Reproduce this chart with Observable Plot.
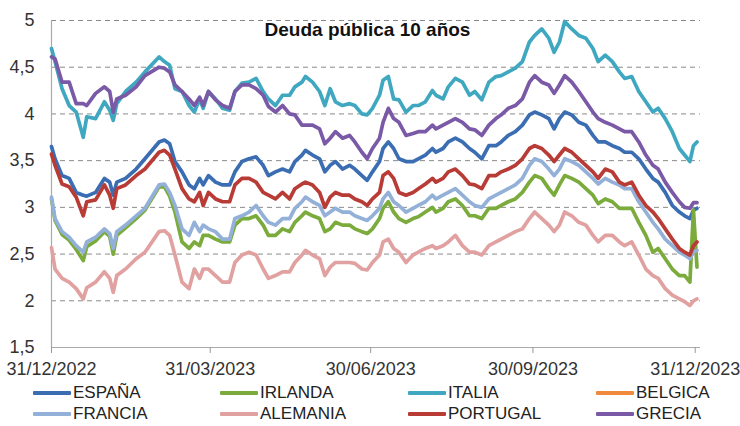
<!DOCTYPE html>
<html><head><meta charset="utf-8">
<script src="https://cdn.jsdelivr.net/npm/d3@7"></script>
<script src="https://cdn.jsdelivr.net/npm/@observablehq/plot@0.6"></script>
<style>
body{margin:0;background:#fff;}
#wrap{position:relative;width:740px;height:426px;font-family:"Liberation Sans",Arial,sans-serif;overflow:hidden;}
#title{position:absolute;top:19px;left:0;width:735px;text-align:center;font-weight:bold;font-size:19px;color:#111;}
.item{position:absolute;height:20px;line-height:20px;display:flex;align-items:center;font-size:17px;color:#222;white-space:nowrap;}
.sw{width:38px;height:4px;margin-right:2px;border-radius:1px;}
</style></head><body>
<div id="wrap"><div id="chart"></div><div id="title">Deuda pública 10 años</div><div id="legend"></div></div>
<script>
// days after 31/12/2022
const dayOffsets = [0,2,6,10,14,18,20,25,30,33,35,37,42,48,53,61,64,67,
70,74,78,81,84,86,89,93,97,101,104,108,112,116,120,123,127,131,135,138,142,
144,148,152,155,158,161,165,169,172,176,179,182,186,188,191,194,197,201,205,208,212,216,
218,222,225,229,233,237,240,244,248,252,255,259,263,267,271,274,278,282,285,288,
291,295,299,303,307,310,314,318,322,325,329,333,337,341,344,348,352,356,359,362,364,366];

const espana = [3.65,3.52,3.34,3.31,3.16,3.13,3.12,3.16,3.31,3.27,3.13,3.27,3.31,3.41,3.52,3.70,3.72,3.68,
3.49,3.38,3.24,3.20,3.31,3.24,3.34,3.27,3.24,3.24,3.38,3.49,3.52,3.54,3.45,3.34,3.38,3.41,3.38,3.49,3.56,
3.61,3.56,3.52,3.38,3.45,3.49,3.41,3.45,3.41,3.34,3.29,3.38,3.49,3.63,3.70,3.63,3.52,3.49,3.49,3.52,3.56,3.63,
3.59,3.63,3.70,3.74,3.70,3.63,3.59,3.52,3.66,3.66,3.70,3.77,3.81,3.88,3.99,4.02,3.99,3.95,3.84,3.95,
4.02,3.99,3.91,3.88,3.77,3.70,3.70,3.66,3.63,3.59,3.59,3.52,3.41,3.31,3.27,3.16,3.02,2.95,2.91,2.88,2.97,2.99];

const irlanda = [3.09,2.86,2.71,2.65,2.55,2.43,2.58,2.64,2.74,2.69,2.50,2.70,2.78,2.88,2.97,3.22,3.22,3.12,
2.95,2.63,2.56,2.63,2.59,2.70,2.70,2.66,2.63,2.63,2.81,2.88,2.88,2.91,2.81,2.70,2.70,2.77,2.74,2.84,2.91,
2.95,2.91,2.88,2.74,2.77,2.84,2.81,2.81,2.77,2.74,2.72,2.77,2.88,2.99,3.06,2.95,2.88,2.84,2.88,2.90,2.95,3.00,
2.95,2.99,3.06,3.09,3.02,2.91,2.91,2.88,2.99,2.99,3.02,3.06,3.09,3.16,3.27,3.34,3.31,3.20,3.13,3.24,
3.34,3.31,3.27,3.20,3.13,3.04,3.09,3.06,2.99,2.99,2.99,2.84,2.70,2.52,2.56,2.45,2.34,2.27,2.27,2.20,2.97,2.36];

const italia = [4.70,4.56,4.27,4.09,4.02,3.75,3.97,3.95,4.13,4.04,3.93,4.11,4.24,4.34,4.45,4.61,4.56,4.52,
4.27,4.24,4.09,4.02,4.16,4.06,4.24,4.16,4.06,4.04,4.24,4.33,4.34,4.38,4.24,4.16,4.09,4.20,4.20,4.29,4.34,
4.40,4.34,4.24,4.09,4.27,4.13,4.09,4.11,4.09,4.00,3.99,4.06,4.20,4.36,4.40,4.16,4.15,4.02,4.09,4.09,4.13,4.25,
4.20,4.16,4.29,4.38,4.34,4.20,4.24,4.15,4.34,4.40,4.41,4.45,4.49,4.56,4.77,4.84,4.91,4.81,4.66,4.77,
4.99,4.91,4.84,4.81,4.70,4.56,4.63,4.56,4.45,4.38,4.40,4.24,4.13,4.02,4.06,3.95,3.81,3.63,3.56,3.49,3.66,3.70];

const belgica = [];

const francia = [3.11,2.88,2.74,2.68,2.59,2.52,2.63,2.68,2.77,2.72,2.56,2.74,2.81,2.91,2.99,3.24,3.25,3.16,
3.02,2.77,2.70,2.84,2.74,2.81,2.77,2.74,2.66,2.66,2.88,2.91,2.95,3.02,2.91,2.84,2.81,2.88,2.88,2.99,3.06,
3.11,3.06,3.02,2.91,2.95,2.99,2.95,2.95,2.91,2.88,2.86,2.91,2.99,3.09,3.16,3.06,3.02,2.95,2.99,3.02,3.06,3.13,
3.09,3.13,3.16,3.20,3.13,3.06,3.02,3.00,3.09,3.13,3.16,3.20,3.24,3.31,3.45,3.52,3.49,3.41,3.34,3.41,
3.52,3.49,3.45,3.38,3.31,3.25,3.31,3.27,3.24,3.20,3.20,3.06,2.95,2.84,2.77,2.66,2.59,2.52,2.49,2.45,2.52,2.54];

const alemania = [2.57,2.34,2.24,2.20,2.13,2.02,2.14,2.20,2.31,2.24,2.09,2.27,2.34,2.45,2.52,2.74,2.75,2.70,
2.49,2.20,2.13,2.34,2.24,2.34,2.34,2.27,2.20,2.20,2.41,2.49,2.52,2.49,2.34,2.24,2.27,2.31,2.31,2.41,2.49,
2.54,2.49,2.45,2.27,2.36,2.41,2.41,2.41,2.40,2.34,2.33,2.41,2.49,2.63,2.66,2.56,2.52,2.41,2.49,2.52,2.56,2.59,
2.56,2.59,2.63,2.70,2.59,2.52,2.52,2.49,2.59,2.63,2.66,2.70,2.74,2.77,2.88,2.95,2.88,2.81,2.74,2.81,
2.95,2.91,2.84,2.81,2.70,2.63,2.70,2.70,2.63,2.59,2.63,2.49,2.34,2.27,2.24,2.13,2.06,2.02,1.99,1.95,2.00,2.02];

const portugal = [3.57,3.45,3.25,3.22,3.11,2.91,3.06,3.08,3.24,3.13,2.99,3.20,3.24,3.34,3.41,3.59,3.61,3.56,
3.41,3.20,3.09,3.06,3.16,3.02,3.16,3.09,3.06,3.06,3.24,3.31,3.31,3.27,3.16,3.13,3.09,3.16,3.09,3.20,3.25,
3.27,3.24,3.16,3.00,3.11,3.16,3.13,3.13,3.09,3.06,3.02,3.09,3.16,3.34,3.38,3.31,3.16,3.13,3.16,3.20,3.25,3.31,
3.27,3.31,3.38,3.41,3.34,3.25,3.24,3.20,3.34,3.34,3.38,3.41,3.45,3.52,3.63,3.66,3.63,3.56,3.49,3.56,
3.63,3.59,3.52,3.45,3.38,3.31,3.41,3.38,3.27,3.24,3.27,3.13,3.02,2.95,2.88,2.77,2.66,2.56,2.52,2.49,2.59,2.63];

const grecia = [4.61,4.59,4.34,4.34,4.11,4.11,4.09,4.22,4.29,4.24,4.02,4.16,4.20,4.29,4.41,4.50,4.49,4.45,
4.31,4.24,4.16,4.09,4.18,4.09,4.24,4.15,4.09,4.06,4.24,4.31,4.31,4.27,4.20,4.08,4.02,4.09,4.00,3.99,3.88,
3.88,3.88,3.84,3.68,3.74,3.81,3.74,3.77,3.70,3.59,3.52,3.63,3.74,3.91,4.06,3.95,3.91,3.77,3.79,3.81,3.81,3.88,
3.84,3.88,3.91,3.95,3.91,3.84,3.83,3.77,3.88,3.95,3.99,4.06,4.09,4.16,4.34,4.41,4.34,4.31,4.22,4.31,
4.41,4.34,4.24,4.13,4.02,3.95,3.91,3.88,3.84,3.81,3.81,3.70,3.56,3.45,3.41,3.27,3.16,3.06,3.00,2.99,3.05,3.05];

const seriesNames = ["ESPAÑA","IRLANDA","ITALIA","BELGICA","FRANCIA","ALEMANIA","PORTUGAL","GRECIA"];
const seriesValues = [espana, irlanda, italia, belgica, francia, alemania, portugal, grecia];
const seriesColors = ["#3a6db2","#7bab3c","#3fa8c0","#f0883e","#93b1d8","#e0a1a0","#b83b36","#7a59a6"];

const yTicks = [1.5,2,2.5,3,3.5,4,4.5,5];
const xTickLabels = ["2022-12-31","2023-03-31","2023-06-30","2023-09-30","2023-12-31"];

const start = new Date(Date.UTC(2022,11,31));
const rows = [];
seriesNames.forEach((name, s) => {
  seriesValues[s].forEach((v, i) => rows.push({name, date: d3.utcDay.offset(start, dayOffsets[i]), value: v}));
});
const xTicks = xTickLabels.map(s => new Date(s + "T00:00:00Z"));
const fmtDate = d3.utcFormat("%d/%m/%Y");
const fmtNum = d => String(d).replace(".", ",");

const chart = Plot.plot({
  width: 740, height: 383,
  marginLeft: 51, marginRight: 40, marginTop: 20, marginBottom: 36,
  style: {fontFamily: "'Liberation Sans', Arial, sans-serif", fontSize: "18px", color: "#333", background: "white"},
  x: {type: "utc", domain: [start, d3.utcDay.offset(start, 368)]},
  y: {domain: [1.5, 5]},
  color: {domain: seriesNames, range: seriesColors},
  marks: [
    Plot.ruleY(yTicks.filter(d => d > 1.5), {stroke: "#8a8a8a", strokeDasharray: "5,4", strokeWidth: 1}),
    Plot.ruleY([1.5], {stroke: "#aaa", strokeWidth: 1.2}),
    Plot.ruleX([start], {stroke: "#aaa", strokeWidth: 1.2}),
    Plot.axisY({ticks: yTicks, tickFormat: fmtNum, tickSize: 0, tickPadding: 17, label: null}),
    Plot.axisX({ticks: xTicks, tickFormat: fmtDate, tickSize: 6, tickPadding: 9, label: null, stroke: "#999", fill: "#333"}),
    Plot.line(rows, {x: "date", y: "value", z: "name", stroke: "name", strokeWidth: 3.7, strokeLinejoin: "round", strokeLinecap: "round"})
  ]
});
document.getElementById("chart").appendChild(chart);

const legend = document.getElementById("legend");
const colLeft = [33, 220, 408, 596];
const rowTop = [383, 404];
seriesNames.forEach((name, i) => {
  const it = document.createElement("div");
  it.className = "item";
  it.style.left = colLeft[i % 4] + "px";
  it.style.top = rowTop[Math.floor(i / 4)] + "px";
  const sw = document.createElement("span");
  sw.className = "sw";
  sw.style.background = seriesColors[i];
  it.appendChild(sw);
  it.appendChild(document.createTextNode(name));
  legend.appendChild(it);
});
</script></body></html>
